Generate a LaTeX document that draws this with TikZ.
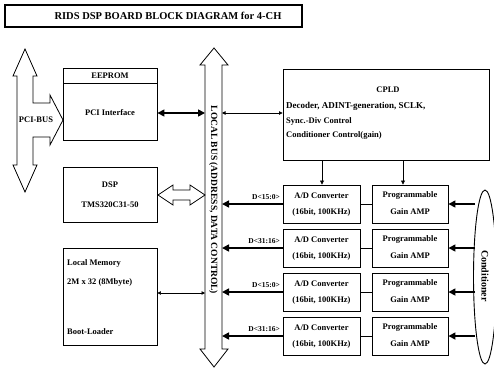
\documentclass[tikz,border=0pt]{standalone}
\usepackage{fontspec}
\setmainfont{Liberation Serif}
\usetikzlibrary{arrows.meta,shapes.geometric}
\begin{document}
\begin{tikzpicture}[x=1pt,y=-1pt,
  txt/.style={font=\bfseries\fontsize{8.5}{9}\selectfont, inner sep=0pt},
  box/.style={draw, line width=0.9pt, inner sep=0pt},
  hollow/.style={draw, line width=0.8pt, fill=white, line join=miter},
  thickarr/.style={line width=1.6pt, -{Triangle[length=7pt,width=7pt]}},
  thickdbl/.style={line width=1.6pt, {Triangle[length=7pt,width=7pt]}-{Triangle[length=7pt,width=7pt]}},
  thindbl/.style={line width=0.7pt, {Triangle[length=3.5pt,width=3.5pt]}-{Triangle[length=3.5pt,width=3.5pt]}},
  thinarr/.style={line width=0.7pt, -{Triangle[length=4pt,width=4pt]}},
  plain/.style={line width=0.7pt}]
\fill[white] (0,0) rectangle (494,369);
\useasboundingbox (0,0) rectangle (494,369);

% title
\node[box, line width=1.3pt, minimum width=297pt, minimum height=22pt] (title) at (153.5,16) {};
\node[txt, font=\bfseries\fontsize{10.5}{12}\selectfont] (titletext) at (168,16) {RIDS DSP BOARD BLOCK DIAGRAM for 4-CH};

% PCI-BUS hollow arrow
\draw[hollow] (25,49) -- (37,76) -- (33,76) -- (33,103) -- (50,103) -- (50,95) -- (63,120)
  -- (50,145) -- (50,137) -- (33,137) -- (33,165) -- (37,165) -- (25,192) -- (13,165)
  -- (17,165) -- (17,76) -- (13,76) -- cycle;
\node[txt] (pcibus) at (36,120) {PCI-BUS};

% local bus hollow arrow
\draw[hollow] (214,48) -- (228,65) -- (222,65) -- (222,349) -- (228,349) -- (214,367)
  -- (200,349) -- (205,349) -- (205,65) -- (200,65) -- cycle;
\node[txt, rotate=-90, font=\bfseries\fontsize{9.5}{10}\selectfont] (bustext) at (213.5,200) {LOCAL BUS (ADDRESS, DATA CONTROL)};

% EEPROM / PCI interface
\node[box, minimum width=94pt, minimum height=72pt] (pci) at (110,104) {};
\draw[plain] (63,83) -- (157,83);
\node[txt] (eeprom) at (110,75.5) {EEPROM};
\node[txt] (pcitext) at (110,113) {PCI Interface};

% DSP
\node[box, minimum width=94pt, minimum height=55pt] (dsp) at (110,195) {};
\node[txt] (dsptext) at (110,185) {DSP};
\node[txt] (dsptype) at (110,205) {TMS320C31-50};

% Local memory
\node[box, minimum width=94pt, minimum height=97pt] (mem) at (110,296.5) {};
\node[txt, anchor=west] (memA) at (67,263) {Local Memory};
\node[txt, anchor=west] (memB) at (67,282) {2M x 32 (8Mbyte)};
\node[txt, anchor=west] (memC) at (67,332) {Boot-Loader};

% CPLD
\node[box, minimum width=206pt, minimum height=91pt] (cpld) at (386,114.5) {};
\node[txt] (cpldtitle) at (388,90) {CPLD};
\node[txt, anchor=west, font=\bfseries\fontsize{9}{10}\selectfont] (cpldA) at (286,106) {Decoder, ADINT-generation, SCLK,};
\node[txt, anchor=west] (cpldB) at (286,121) {Sync.-Div Control};
\node[txt, anchor=west] (cpldC) at (286,135) {Conditioner Control(gain)};

% bus attachment points
\coordinate (busPci) at (205,113);
\coordinate (busCpld) at (222,113);
\coordinate (busMem) at (205,293);

% connections left side
\draw[thickdbl] (pci.east |- busPci) -- (busPci);
\draw[thindbl] (busCpld) -- (cpld.west |- busCpld);
\draw[thindbl] (mem.east |- busMem) -- (busMem);
\draw[hollow] (158,195) -- (173,185) -- (173,190) -- (190,190) -- (190,185) -- (205,195)
  -- (190,205) -- (190,200) -- (173,200) -- (173,205) -- cycle;

% conditioner
\node[draw, line width=0.9pt, ellipse, minimum width=23pt, minimum height=174pt, inner sep=0pt] (cond) at (485,277) {};
\node[txt, rotate=-90, font=\bfseries\fontsize{10}{10}\selectfont] (condtext) at (485,276) {Conditioner};

% channels
\foreach \i/\top/\lab in {1/185/{D<15:0>},2/229/{D<31:16>},3/273/{D<15:0>},4/317/{D<31:16>}}{
  \node[box, minimum width=77pt, minimum height=38pt] (adc\i) at (321.5,\top+19) {};
  \node[txt] (adcA\i) at (321.5,\top+10.5) {A/D Converter};
  \node[txt] (adcB\i) at (321.5,\top+27) {(16bit, 100KHz)};
  \node[box, minimum width=76pt, minimum height=38pt] (pga\i) at (410,\top+19) {};
  \node[txt] (pgaA\i) at (410,\top+10.5) {Programmable};
  \node[txt] (pgaB\i) at (410,\top+27) {Gain AMP};
  \coordinate (busAdc\i) at (222,\top+19);
  \coordinate (condIn\i) at (475,\top+19);
  \draw[thickarr] (adc\i.west) -- (busAdc\i);
  \node[txt, anchor=south east, font=\bfseries\fontsize{7.5}{8}\selectfont] (dlab\i) at (280,\top+15) {\lab};
  \draw[plain] (adc\i.east) -- (pga\i.west);
  \draw[thickarr] (condIn\i) -- (pga\i.east);
}

% CPLD to first channel
\coordinate (c1) at (322,160);
\coordinate (c2) at (403,160);
\draw[thinarr] (c1) -- (c1 |- adc1.north);
\draw[thinarr] (c2) -- (c2 |- pga1.north);
\end{tikzpicture}
\end{document}
